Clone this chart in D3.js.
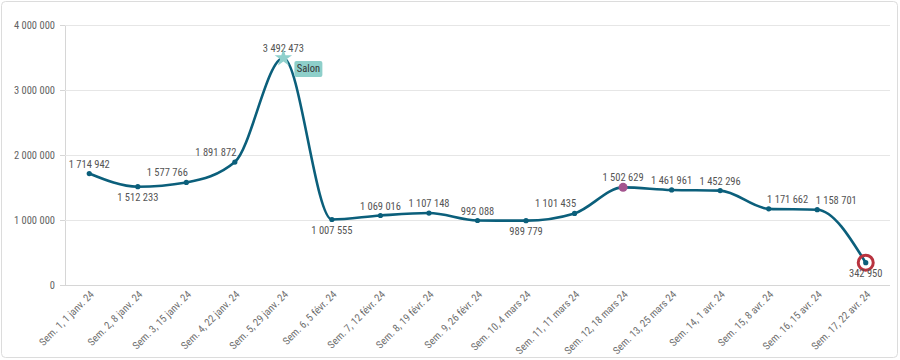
<!DOCTYPE html>
<html><head><meta charset="utf-8">
<script src="https://cdn.jsdelivr.net/npm/d3@7"></script>
<style>
html,body{margin:0;padding:0;background:#fff;}
text{font-family:"Liberation Sans Narrow","Source Sans Pro","Roboto Condensed","Liberation Sans",sans-serif;}
</style></head>
<body><svg id="chart" width="900" height="360"></svg>
<script>
const categories = ["Sem. 1, 1 janv. 24","Sem. 2, 8 janv. 24","Sem. 3, 15 janv. 24","Sem. 4, 22 janv. 24","Sem. 5, 29 janv. 24","Sem. 6, 5 févr. 24","Sem. 7, 12 févr. 24","Sem. 8, 19 févr. 24","Sem. 9, 26 févr. 24","Sem. 10, 4 mars 24","Sem. 11, 11 mars 24","Sem. 12, 18 mars 24","Sem. 13, 25 mars 24","Sem. 14, 1 avr. 24","Sem. 15, 8 avr. 24","Sem. 16, 15 avr. 24","Sem. 17, 22 avr. 24"];
const values = [1714942,1512233,1577766,1891872,3492473,1007555,1069016,1107148,992088,989779,1101435,1502629,1461961,1452296,1171662,1158701,342950];
const yTicks = [0,1000000,2000000,3000000,4000000];
const labelPlacement = ["above","below","left","left","above","below","above","above","above","below","left","above","above","above","right","right","below"];
const annotationIndex = 4, annotationText = "Salon";
const highlightIndex = 11;
const alertIndex = 16;

(function(){
const svg = d3.select("#chart");
const mLeft = 65, mRight = 890, mTop = 25, mBottom = 285;
const loc = d3.formatLocale({decimal:",", thousands:" ", grouping:[3], currency:["",""]});
const fmt = loc.format(",d");

svg.append("rect").attr("x",1.5).attr("y",1.5).attr("width",896).attr("height",356)
  .attr("rx",4).attr("fill","#fff").attr("stroke","#dcdcdc");

const x = d3.scalePoint().domain(categories).range([mLeft,mRight]).padding(0.5);
const y = d3.scaleLinear().domain([0,4000000]).range([mBottom,mTop]);

const yAxis = svg.append("g").attr("transform",`translate(${mLeft},0)`)
  .call(d3.axisLeft(y).tickValues(yTicks).tickFormat(fmt).tickSize(5).tickPadding(5));
yAxis.select(".domain").attr("stroke","#d6d6d6");
yAxis.selectAll(".tick line").attr("stroke","#d6d6d6");
yAxis.selectAll(".tick text").attr("fill","#636363").style("font-size","10.5px");
svg.append("g").selectAll("line").data(yTicks.filter(d=>d>0)).join("line")
  .attr("x1",mLeft).attr("x2",mRight).attr("y1",d=>y(d)+0.5).attr("y2",d=>y(d)+0.5)
  .attr("stroke","#e6e6e6");

const xAxis = svg.append("g").attr("transform",`translate(0,${mBottom})`)
  .call(d3.axisBottom(x).tickSize(0).tickPadding(0));
xAxis.select(".domain").attr("stroke","#d6d6d6").attr("d",`M${mLeft},0.5H${mRight}`);
xAxis.selectAll(".tick text").attr("fill","#707070").style("font-size","10.5px")
  .attr("text-anchor","end").attr("dy",0)
  .attr("transform","translate(5,10) rotate(-45)");

const lineColor = "#0b5f7b";
const pts = values.map((v,i)=>[x(categories[i]), y(v)]);
svg.append("path").datum(pts).attr("fill","none").attr("stroke",lineColor)
  .attr("stroke-width",2.6).attr("stroke-linejoin","round")
  .attr("d", d3.line().curve(d3.curveMonotoneX));

svg.append("g").selectAll("circle").data(values).join("circle")
  .attr("cx",(d,i)=>x(categories[i])).attr("cy",d=>y(d)).attr("r",2.6).attr("fill",lineColor);

svg.append("circle").attr("cx",x(categories[highlightIndex])).attr("cy",y(values[highlightIndex]))
  .attr("r",4.5).attr("fill","#a4558f");
svg.append("circle").attr("cx",x(categories[alertIndex])).attr("cy",y(values[alertIndex]))
  .attr("r",7.5).attr("fill","none").attr("stroke","#b8333f").attr("stroke-width",3);

svg.append("g").selectAll("text").data(values).join("text")
  .attr("x",(d,i)=>x(categories[i]) + (labelPlacement[i]==="left"?-19:labelPlacement[i]==="right"?19:0))
  .attr("y",(d,i)=>y(d) + (labelPlacement[i]==="below"?14:-6))
  .attr("text-anchor","middle").attr("fill","#555").style("font-size","10.5px")
  .text(d=>fmt(d));

const ax = x(categories[annotationIndex]), ay = y(values[annotationIndex]);
svg.append("path").attr("d", d3.symbol().type(d3.symbolStar).size(95)())
  .attr("transform",`translate(${ax},${ay})`).attr("fill","#8fd0cc");
const ag = svg.append("g").attr("transform",`translate(${ax+11},${ay+3})`);
ag.append("rect").attr("width",28).attr("height",16).attr("rx",2).attr("fill","#8ecfca");
ag.append("text").attr("x",14).attr("y",11.5).attr("text-anchor","middle")
  .attr("fill","#333").style("font-size","10.5px").text(annotationText);
})();
</script></body></html>
